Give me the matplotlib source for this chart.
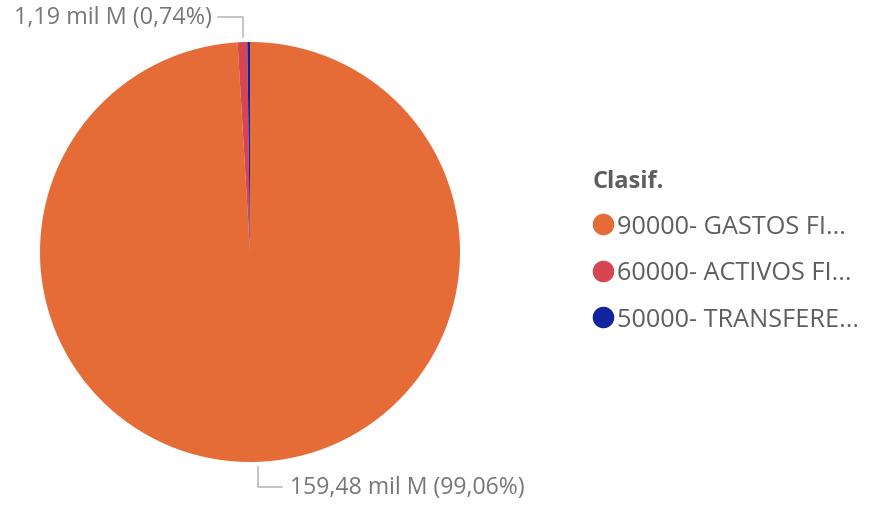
"""Pie chart by Clasif."""

import matplotlib.pyplot as plt
from matplotlib.lines import Line2D

plt.rcParams['font.family'] = ['Open Sans', 'DejaVu Sans']

CATEGORIES = ['90000- GASTOS FI...', '60000- ACTIVOS FI...', '50000- TRANSFERE...']
VALUES = [159.48, 1.19, 0.33]  # mil M
COLORS = ['#E66C37', '#D64550', '#12239E']
LABEL_TOP = '1,19 mil M (0,74%)'
LABEL_BOTTOM = '159,48 mil M (99,06%)'
LEGEND_TITLE = 'Clasif.'

TEXT_COLOR = '#777777'
LEGEND_COLOR = '#605E5C'
LINE_COLOR = '#BBBBBB'


def main():
    fig = plt.figure(figsize=(8.7, 5.06), dpi=100)
    ax = fig.add_axes([40 / 870, 43 / 506, 420 / 870, 420 / 506])
    ax.pie(VALUES, colors=COLORS, startangle=90, counterclock=False,
           radius=1, wedgeprops=dict(linewidth=0))
    ax.set_xlim(-1, 1)
    ax.set_ylim(-1, 1)
    ax.set_aspect('equal')

    # leader lines and labels
    ax.plot([-0.033, -0.033, -0.152], [1.024, 1.119, 1.119],
            color=LINE_COLOR, lw=1.2, clip_on=False)
    ax.text(-0.181, 1.119, LABEL_TOP, ha='right', va='center',
            fontsize=16.8, color=TEXT_COLOR)
    ax.plot([0.038, 0.038, 0.152], [-1.024, -1.119, -1.119],
            color=LINE_COLOR, lw=1.2, clip_on=False)
    ax.text(0.19, -1.119, LABEL_BOTTOM, ha='left', va='center',
            fontsize=16.6, color=TEXT_COLOR)

    handles = [Line2D([], [], marker='o', ls='', markersize=14.5,
                      markerfacecolor=c, markeredgecolor=c) for c in COLORS]
    leg = fig.legend(handles, CATEGORIES, title=LEGEND_TITLE,
                     loc='upper left', bbox_to_anchor=(593 / 870, 1 - 170 / 506),
                     frameon=False, fontsize=18.2, handletextpad=0.15,
                     handlelength=0.8, labelspacing=0.84, borderaxespad=0,
                     borderpad=0, title_fontproperties=dict(weight='bold', size=17))
    leg._legend_box.align = 'left'
    leg.get_title().set_color(LEGEND_COLOR)
    for t in leg.get_texts():
        t.set_color(LEGEND_COLOR)

    fig.savefig('out.png', dpi=100)
    plt.close(fig)


if __name__ == '__main__':
    main()
